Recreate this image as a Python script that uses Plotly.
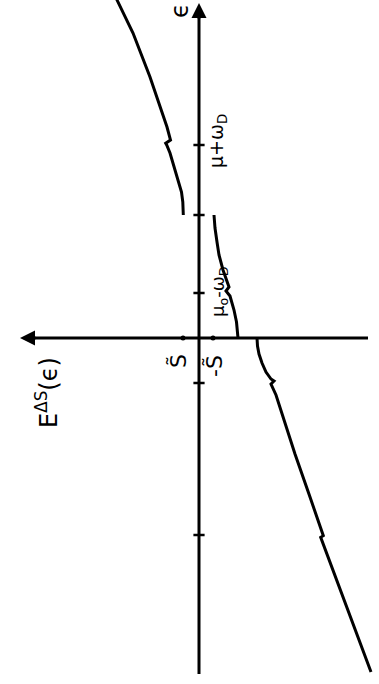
import plotly.graph_objects as go

# Sketch of E^ΔS(ϵ) against ϵ, drawn with the ϵ axis pointing up and E pointing left.

# tick positions along the ϵ axis
eps_ticks = [19.3, 12.3, 4.5, -4.5, -19.7]
# tick positions along the E axis (S̃ and -S̃)
gap_ticks = [1.6, -1.4]

# branch above μ+ω_D and down to the gap edge
upper_E = [8.4, 8.2, 6.6, 4.9, 3.2, 2.85, 3.33, 3.23, 2.9, 2.6, 2.25, 2.0, 1.75, 1.62, 1.57]
upper_eps = [34.3, 33.8, 30.5, 26.1, 21.1, 19.8, 19.47, 19.3, 18.5, 17.5, 16.5, 15.6, 14.6,
             13.6, 12.3]

# branch between 0 and the upper gap edge
middle_E = [-1.5, -1.6, -1.8, -2.0, -2.4, -3.0, -2.7, -3.1, -3.5, -3.75, -3.9]
middle_eps = [12.3, 11.0, 9.6, 8.3, 6.8, 5.1, 4.7, 4.2, 2.8, 1.6, 0.0]

# branch below ϵ = 0
lower_E = [-5.8, -5.85, -6.0, -6.3, -6.7, -7.2, -7.5, -7.2, -7.7, -8.4, -9.6, -11.1,
           -12.43, -12.17, -12.27, -17.2]
lower_eps = [0.0, -0.8, -1.6, -2.5, -3.4, -4.1, -4.3, -4.6, -5.7, -7.9, -11.6, -15.9,
             -19.77, -19.93, -20.2, -33.4]

# axis extents
E_left_tip, E_right_end = 17.9, -16.9
eps_top_tip, eps_bottom_end = 33.5, -33.6

INK = "#000000"
FONT = "DejaVu Sans"

fig = go.Figure()

# axes
fig.add_trace(go.Scatter(x=[E_right_end, E_left_tip - 1.0], y=[0, 0], mode="lines",
                         line=dict(color=INK, width=3), hoverinfo="skip"))
fig.add_trace(go.Scatter(x=[0, 0], y=[eps_bottom_end, eps_top_tip - 1.0], mode="lines",
                         line=dict(color=INK, width=3), hoverinfo="skip"))

# ticks
fig.add_trace(go.Scatter(x=[0] * len(eps_ticks), y=eps_ticks, mode="markers",
                         marker=dict(symbol="line-ew", size=8,
                                     line=dict(color=INK, width=2.5)),
                         hoverinfo="skip"))
fig.add_trace(go.Scatter(x=gap_ticks, y=[0] * len(gap_ticks), mode="markers",
                         marker=dict(symbol="circle", size=5, color=INK),
                         hoverinfo="skip"))

# curve branches
for xs, ys in [(upper_E, upper_eps), (middle_E, middle_eps), (lower_E, lower_eps)]:
    fig.add_trace(go.Scatter(x=xs, y=ys, mode="lines",
                             line=dict(color=INK, width=3),
                             hoverinfo="skip"))

# arrowheads on the axes
fig.add_annotation(x=E_left_tip, y=0, ax=E_left_tip - 1.7, ay=0, xref="x", yref="y",
                   axref="x", ayref="y", showarrow=True, arrowhead=2, arrowsize=1,
                   arrowwidth=3, arrowcolor=INK, text="", standoff=0)
fig.add_annotation(x=0, y=eps_top_tip, ax=0, ay=eps_top_tip - 1.7, xref="x", yref="y",
                   axref="x", ayref="y", showarrow=True, arrowhead=2, arrowsize=1,
                   arrowwidth=3, arrowcolor=INK, text="", standoff=0)

# labels (rotated with the sketch)
labels = [
    ("ϵ", 1.9, 32.7, 24),
    ("E<sup>ΔS</sup>(ϵ)", 15.2, -5.5, 24),
    ("S\u0303", 2.1, -2.3, 22),
    ("-S\u0303", -1.5, -2.8, 22),
    ("μ+ω<sub>D</sub>", -1.8, 19.7, 19),
    ("μ<sub>o</sub>-ω<sub>D</sub>", -2.0, 4.6, 18),
]
for text, x, y, size in labels:
    fig.add_annotation(x=x, y=y, xref="x", yref="y", text=text, showarrow=False,
                       textangle=-90, font=dict(family=FONT, size=size, color=INK))

fig.update_layout(
    width=379, height=684,
    margin=dict(l=0, r=0, t=0, b=0),
    paper_bgcolor="white", plot_bgcolor="white",
    showlegend=False,
    xaxis=dict(range=[19.9, -18.0], visible=False, fixedrange=True),
    yaxis=dict(range=[-34.6, 33.8], visible=False, fixedrange=True),
)

fig.write_html("out.html")
